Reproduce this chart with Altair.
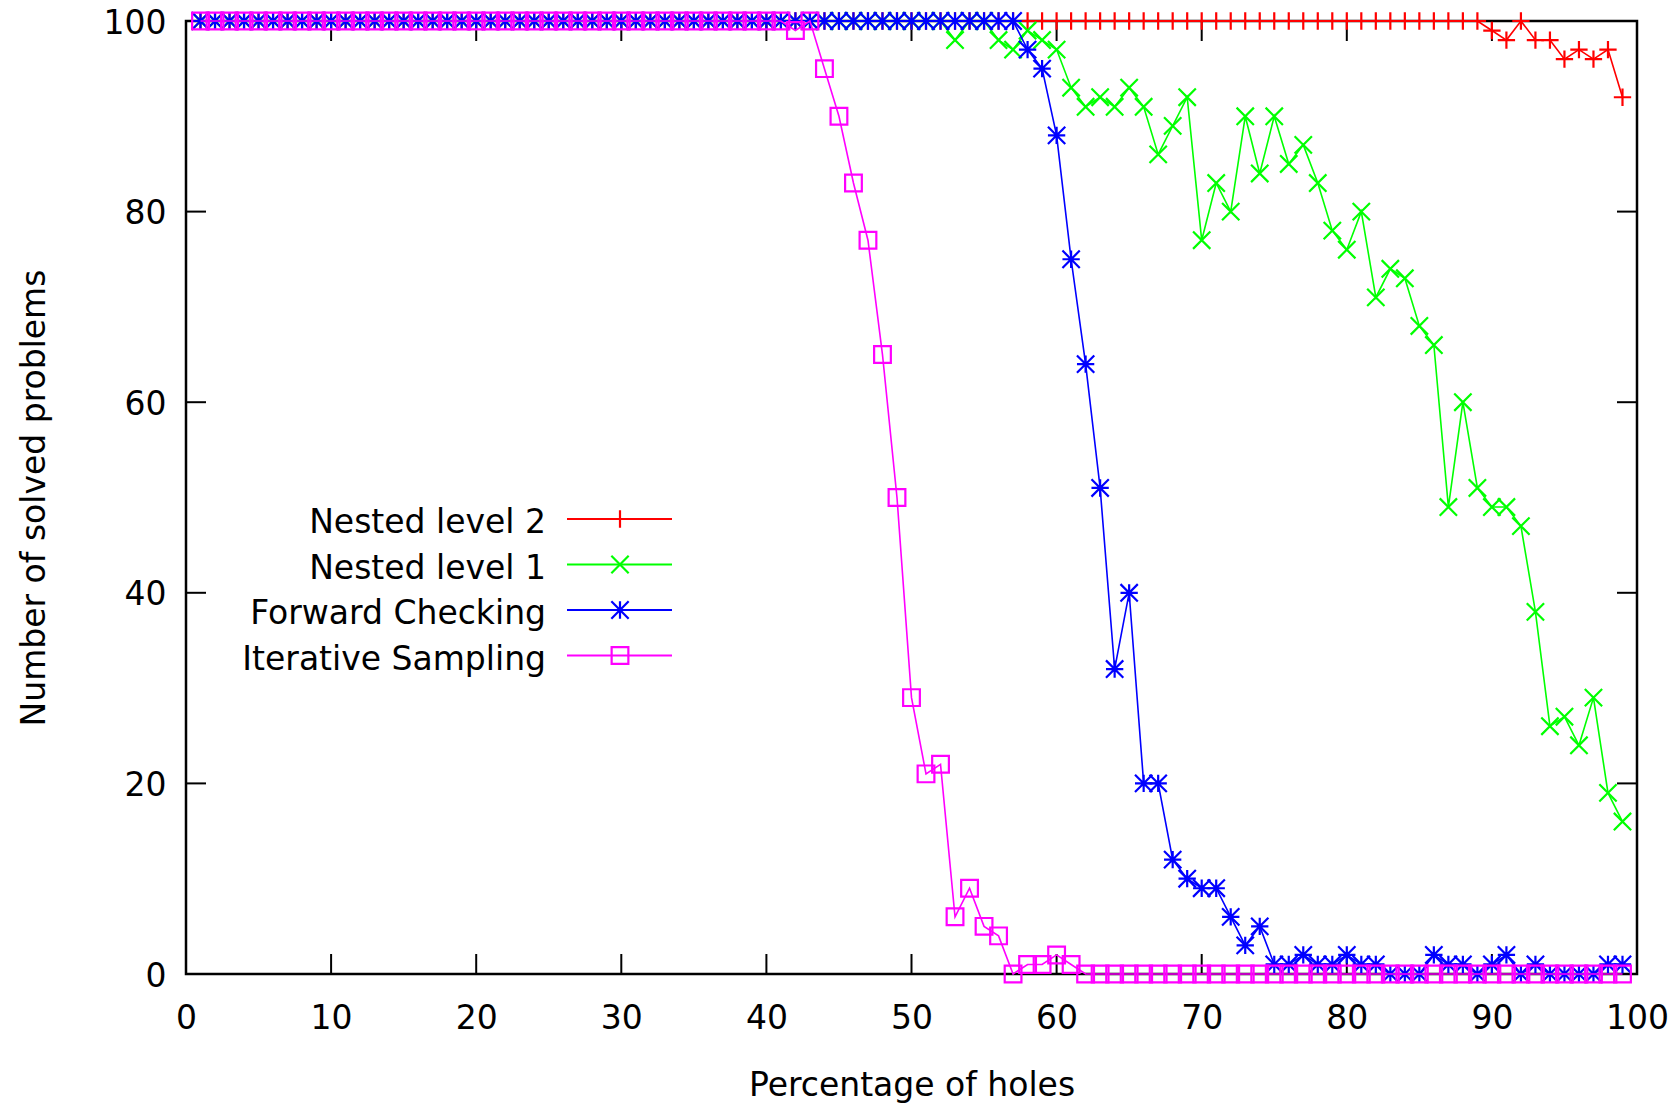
import altair as alt
import pandas as pd

# ---------------- data ----------------
x_holes = list(range(1, 100))

nested_level_2 = [
    100, 100, 100, 100, 100, 100, 100, 100, 100, 100,
    100, 100, 100, 100, 100, 100, 100, 100, 100, 100,
    100, 100, 100, 100, 100, 100, 100, 100, 100, 100,
    100, 100, 100, 100, 100, 100, 100, 100, 100, 100,
    100, 100, 100, 100, 100, 100, 100, 100, 100, 100,
    100, 100, 100, 100, 100, 100, 100, 100, 100, 100,
    100, 100, 100, 100, 100, 100, 100, 100, 100, 100,
    100, 100, 100, 100, 100, 100, 100, 100, 100, 100,
    100, 100, 100, 100, 100, 100, 100, 100, 100, 99,
    98, 100, 98, 98, 96, 97, 96, 97, 92,
]

nested_level_1 = [
    100, 100, 100, 100, 100, 100, 100, 100, 100, 100,
    100, 100, 100, 100, 100, 100, 100, 100, 100, 100,
    100, 100, 100, 100, 100, 100, 100, 100, 100, 100,
    100, 100, 100, 100, 100, 100, 100, 100, 100, 100,
    100, 100, 100, 100, 100, 100, 100, 100, 100, 100,
    100, 100, 98, 100, 100, 98, 97, 99, 98, 97,
    93, 91, 92, 91, 93, 91, 86, 89, 92, 77,
    83, 80, 90, 84, 90, 85, 87, 83, 78, 76,
    80, 71, 74, 73, 68, 66, 49, 60, 51, 49,
    49, 47, 38, 26, 27, 24, 29, 19, 16,
]

forward_checking = [
    100, 100, 100, 100, 100, 100, 100, 100, 100, 100,
    100, 100, 100, 100, 100, 100, 100, 100, 100, 100,
    100, 100, 100, 100, 100, 100, 100, 100, 100, 100,
    100, 100, 100, 100, 100, 100, 100, 100, 100, 100,
    100, 100, 100, 100, 100, 100, 100, 100, 100, 100,
    100, 100, 100, 100, 100, 100, 100, 97, 95, 88,
    75, 64, 51, 32, 40, 20, 20, 12, 10, 9,
    9, 6, 3, 5, 1, 1, 2, 1, 1, 2,
    1, 1, 0, 0, 0, 2, 1, 1, 0, 1,
    2, 0, 1, 0, 0, 0, 0, 1, 1,
]

iterative_sampling = [
    100, 100, 100, 100, 100, 100, 100, 100, 100, 100,
    100, 100, 100, 100, 100, 100, 100, 100, 100, 100,
    100, 100, 100, 100, 100, 100, 100, 100, 100, 100,
    100, 100, 100, 100, 100, 100, 100, 100, 100, 100,
    100, 99, 100, 95, 90, 83, 77, 65, 50, 29,
    21, 22, 6, 9, 5, 4, 0, 1, 1, 2,
    1, 0, 0, 0, 0, 0, 0, 0, 0, 0,
    0, 0, 0, 0, 0, 0, 0, 0, 0, 0,
    0, 0, 0, 0, 0, 0, 0, 0, 0, 0,
    0, 0, 0, 0, 0, 0, 0, 0, 0,
]

series_names = ["Nested level 2", "Nested level 1", "Forward Checking", "Iterative Sampling"]
series_values = [nested_level_2, nested_level_1, forward_checking, iterative_sampling]
series_colors = ["#ff0000", "#00ff00", "#0000ff", "#ff00ff"]

x_ticks = [0, 10, 20, 30, 40, 50, 60, 70, 80, 90, 100]
y_ticks = [0, 20, 40, 60, 80, 100]

# ---------------- styling ----------------
W, H = 1451, 953
FONT = "DejaVu Sans"
FS = 33
TICK = 20

PLUS = "M-1,0L1,0M0,-1L0,1"
CROSS = "M-1,-1L1,1M-1,1L1,-1"
STAR = "M-1,0L1,0M0,-1L0,1M-1,-1L1,1M-1,1L1,-1"
SQUARE = "M-1,-1L1,-1L1,1L-1,1Z"
series_shapes = [PLUS, CROSS, STAR, SQUARE]
series_sizes = [300, 300, 300, 280]

xs = alt.Scale(domain=[0, 100], nice=False, zero=False)
ys = alt.Scale(domain=[0, 100], nice=False, zero=False)

x_axis = alt.Axis(
    values=x_ticks, title="Percentage of holes", grid=False, domain=False,
    ticks=False, tickSize=0, labelFont=FONT, labelFontSize=FS, labelColor="black",
    labelPadding=28, labelFlush=False, labelOverlap=False,
    titleFont=FONT, titleFontSize=FS, titleFontWeight="normal", titleColor="black",
    titleX=W / 2, titleY=121, titleAlign="center", titleBaseline="alphabetic",
)
y_axis = alt.Axis(
    values=y_ticks, title="Number of solved problems", grid=False, domain=False,
    ticks=False, tickSize=0, labelFont=FONT, labelFontSize=FS, labelColor="black",
    labelPadding=20, labelFlush=False, labelOverlap=False, labelOffset=2,
    titleFont=FONT, titleFontSize=FS, titleFontWeight="normal", titleColor="black",
    titleX=-152, titleY=H / 2, titleAngle=270, titleAlign="center", titleBaseline="middle",
)

X = alt.X("x:Q", scale=xs, axis=x_axis)
Y = alt.Y("y:Q", scale=ys, axis=y_axis)

layers = []

# inward tick marks on all four sides
xt = pd.DataFrame({"x": x_ticks})
yt = pd.DataFrame({"y": y_ticks})
tick_style = dict(color="black", strokeWidth=2)
layers.append(alt.Chart(xt).mark_rule(**tick_style).encode(x=X, y=alt.value(H), y2=alt.value(H - TICK)))
layers.append(alt.Chart(xt).mark_rule(**tick_style).encode(x=X, y=alt.value(0), y2=alt.value(TICK)))
layers.append(alt.Chart(yt).mark_rule(**tick_style).encode(y=Y, x=alt.value(0), x2=alt.value(TICK)))
layers.append(alt.Chart(yt).mark_rule(**tick_style).encode(y=Y, x=alt.value(W), x2=alt.value(W - TICK)))

# series: line + points
for name, vals, col, shp, sz in zip(series_names, series_values, series_colors, series_shapes, series_sizes):
    df = pd.DataFrame({"x": x_holes, "y": vals})
    base = alt.Chart(df)
    layers.append(base.mark_line(color=col, strokeWidth=1.6, clip=False).encode(x=X, y=Y))
    layers.append(
        base.mark_point(shape=shp, size=sz, filled=False, color=col, strokeWidth=2.2,
                        opacity=1, clip=False).encode(x=X, y=Y)
    )

# manual gnuplot-style legend (text right-aligned, sample to the right)
legend_rows = [498, 543.5, 589, 634.5]
for name, col, shp, sz, ry in zip(series_names, series_colors, series_shapes, series_sizes, legend_rows):
    one = alt.Data(values=[{"label": name}])
    layers.append(
        alt.Chart(one).mark_text(align="right", baseline="alphabetic", font=FONT, fontSize=FS,
                                 color="black").encode(
            text="label:N", x=alt.value(360), y=alt.value(ry + 14))
    )
    layers.append(
        alt.Chart(one).mark_rule(color=col, strokeWidth=2.2).encode(
            x=alt.value(381), x2=alt.value(486), y=alt.value(ry))
    )
    layers.append(
        alt.Chart(one).mark_point(shape=shp, size=sz, filled=False, color=col, strokeWidth=2.2,
                                  opacity=1).encode(x=alt.value(434), y=alt.value(ry))
    )

chart = (
    alt.layer(*layers)
    .properties(
        width=W, height=H,
        autosize=alt.AutoSizeParams(type="none"),
        padding={"left": 186, "top": 21, "right": 41, "bottom": 134},
        background="white",
    )
    .configure(font=FONT)
    .configure_view(stroke="black", strokeWidth=2.5)
)

chart.save("out.html", embed_options={"renderer": "svg", "actions": False})
